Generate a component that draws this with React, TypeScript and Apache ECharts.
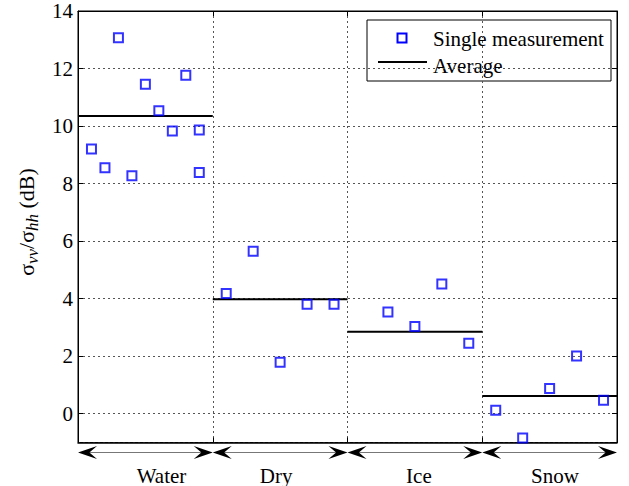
import React, { useEffect, useRef } from "react";
import * as echarts from "echarts";

const categories = ["Water", "Dry", "Ice", "Snow"];
const labelPos = [0.62, 1.47, 2.53, 3.54];

const waterX = [0.1, 0.2, 0.3, 0.4, 0.5, 0.6, 0.7, 0.8, 0.9, 0.9];
const waterY = [9.2, 8.55, 13.07, 8.27, 11.45, 10.53, 9.83, 11.77, 9.86, 8.39];
const dryX = [1.1, 1.3, 1.5, 1.7, 1.9];
const dryY = [4.18, 5.65, 1.79, 3.81, 3.81];
const iceX = [2.3, 2.5, 2.7, 2.9];
const iceY = [3.54, 3.03, 4.51, 2.45];
const snowX = [3.1, 3.3, 3.5, 3.7, 3.9];
const snowY = [0.12, -0.84, 0.88, 2.01, 0.47];
const averages = [10.35, 3.98, 2.85, 0.62];

const yMin = -1;
const yMax = 14;

const FONT = "'Liberation Serif', 'Times New Roman', serif";

export default function App() {
  const ref = useRef<HTMLDivElement>(null);
  useEffect(() => {
    if (!ref.current) return;
    const chart = echarts.init(ref.current, null, { renderer: "svg" });
    const zip = (xs: number[], ys: number[]) => xs.map((x, i) => [x, ys[i]]);
    const points = [
      ...zip(waterX, waterY),
      ...zip(dryX, dryY),
      ...zip(iceX, iceY),
      ...zip(snowX, snowY),
    ];
    const avgData: any[] = [];
    averages.forEach((a, i) => {
      avgData.push([i, a], [i + 1, a], [i + 1, "-"]);
    });
    const arrowData = categories.map((_, i) => [i, i + 1, labelPos[i]]);
    const grid = "#555";
    const yAxisBase = {
      type: "value",
      min: yMin,
      max: yMax,
      splitNumber: 8,
      minInterval: 2,
      maxInterval: 2,
      axisLine: { show: true, onZero: false, lineStyle: { color: "#000", width: 1 } },
      axisTick: { show: true, inside: true, length: 5, lineStyle: { color: "#000" } },
    };
    chart.setOption({
      animation: false,
      textStyle: { fontFamily: FONT },
      grid: {
        left: 78,
        right: 12,
        top: 11,
        bottom: 43.5,
        show: true,
        borderColor: "#000",
        borderWidth: 1,
        backgroundColor: "#fff",
      },
      xAxis: [
        {
          type: "value",
          min: 0,
          max: 4,
          interval: 1,
          axisLine: { show: true, onZero: false, lineStyle: { color: "#000", width: 1.5 } },
          axisTick: { show: true, inside: true, length: 5, lineStyle: { color: "#000" } },
          axisLabel: { show: false },
          splitLine: { show: true, lineStyle: { color: grid, type: [2, 3], width: 1 } },
        },
        {
          type: "value",
          position: "top",
          min: 0,
          max: 4,
          interval: 1,
          axisLine: { show: true, onZero: false, lineStyle: { color: "#000", width: 1 } },
          axisTick: { show: true, inside: true, length: 5, lineStyle: { color: "#000" } },
          axisLabel: { show: false },
          splitLine: { show: false },
        },
      ],
      yAxis: [
        {
          ...yAxisBase,
          position: "left",
          axisLabel: {
            show: true,
            showMinLabel: false,
            margin: 5,
            fontFamily: FONT,
            fontSize: 21,
            color: "#000",
          },
          splitLine: { show: true, lineStyle: { color: grid, type: [2, 3], width: 1 } },
        },
        {
          ...yAxisBase,
          position: "right",
          axisLabel: { show: false },
          splitLine: { show: false },
        },
      ],
      series: [
        {
          name: "Average",
          type: "line",
          data: avgData,
          symbol: "none",
          lineStyle: { color: "#000", width: 2 },
          connectNulls: false,
          z: 3,
        },
        {
          name: "Single measurement",
          type: "scatter",
          data: points,
          symbol: "rect",
          symbolSize: 9,
          itemStyle: { color: "rgba(255,255,255,0)", borderColor: "#0000ff", borderWidth: 2 },
          z: 4,
        },
        {
          name: "groups",
          type: "custom",
          data: arrowData,
          clip: false,
          silent: true,
          renderItem: (params: any, api: any) => {
            const s = api.coord([api.value(0), yMin]);
            const e = api.coord([api.value(1), yMin]);
            const lp = api.coord([api.value(2), yMin]);
            const y = s[1] + 10;
            const L = 19;
            const H = 6.5;
            const N = 0.6;
            return {
              type: "group",
              children: [
                {
                  type: "line",
                  shape: { x1: s[0] + 5, y1: y, x2: e[0] - 5, y2: y },
                  style: { stroke: "#777", lineWidth: 1 },
                },
                {
                  type: "polygon",
                  shape: {
                    points: [
                      [s[0], y],
                      [s[0] + L, y - H],
                      [s[0] + L * N, y],
                      [s[0] + L, y + H],
                    ],
                  },
                  style: { fill: "#000" },
                },
                {
                  type: "polygon",
                  shape: {
                    points: [
                      [e[0], y],
                      [e[0] - L, y - H],
                      [e[0] - L * N, y],
                      [e[0] - L, y + H],
                    ],
                  },
                  style: { fill: "#000" },
                },
                {
                  type: "text",
                  style: {
                    text: categories[params.dataIndex],
                    x: lp[0],
                    y: y + 23,
                    align: "center",
                    verticalAlign: "middle",
                    fontSize: 21,
                    lineHeight: 18,
                    fontFamily: FONT,
                    fill: "#000",
                  },
                },
              ],
            };
          },
        },
      ],
      graphic: [
        {
          type: "text",
          x: 26,
          y: 222,
          rotation: Math.PI / 2,
          style: {
            text: "{m|σ}{s|vv}{m|/σ}{s|hh}{m| (dB)}",
            align: "center",
            verticalAlign: "middle",
            fill: "#000",
            rich: {
              m: { fontSize: 22, fontFamily: FONT, lineHeight: 30, verticalAlign: "middle" },
              s: {
                fontSize: 17,
                fontFamily: FONT,
                fontStyle: "italic",
                lineHeight: 12,
                verticalAlign: "bottom",
              },
            },
          },
        },
        {
          type: "group",
          z: 100,
          children: [
            {
              type: "rect",
              shape: { x: 367, y: 20, width: 244, height: 61 },
              style: { fill: "#fff", stroke: "#000", lineWidth: 1 },
            },
            {
              type: "rect",
              shape: { x: 397.5, y: 33.5, width: 9, height: 9 },
              style: { fill: "none", stroke: "#0000ff", lineWidth: 2 },
            },
            {
              type: "text",
              style: {
                text: "Single measurement",
                x: 433,
                y: 39,
                verticalAlign: "middle",
                fontSize: 21,
                fontFamily: FONT,
                fill: "#000",
              },
            },
            {
              type: "line",
              shape: { x1: 378, y1: 62, x2: 427, y2: 62 },
              style: { stroke: "#000", lineWidth: 2 },
            },
            {
              type: "text",
              style: {
                text: "Average",
                x: 433,
                y: 66,
                verticalAlign: "middle",
                fontSize: 21,
                fontFamily: FONT,
                fill: "#000",
              },
            },
          ],
        },
      ],
    });
    return () => chart.dispose();
  }, []);
  return (
    <div
      ref={ref}
      style={{ position: "fixed", left: 0, top: 0, width: 629, height: 486, background: "#fff" }}
    />
  );
}
